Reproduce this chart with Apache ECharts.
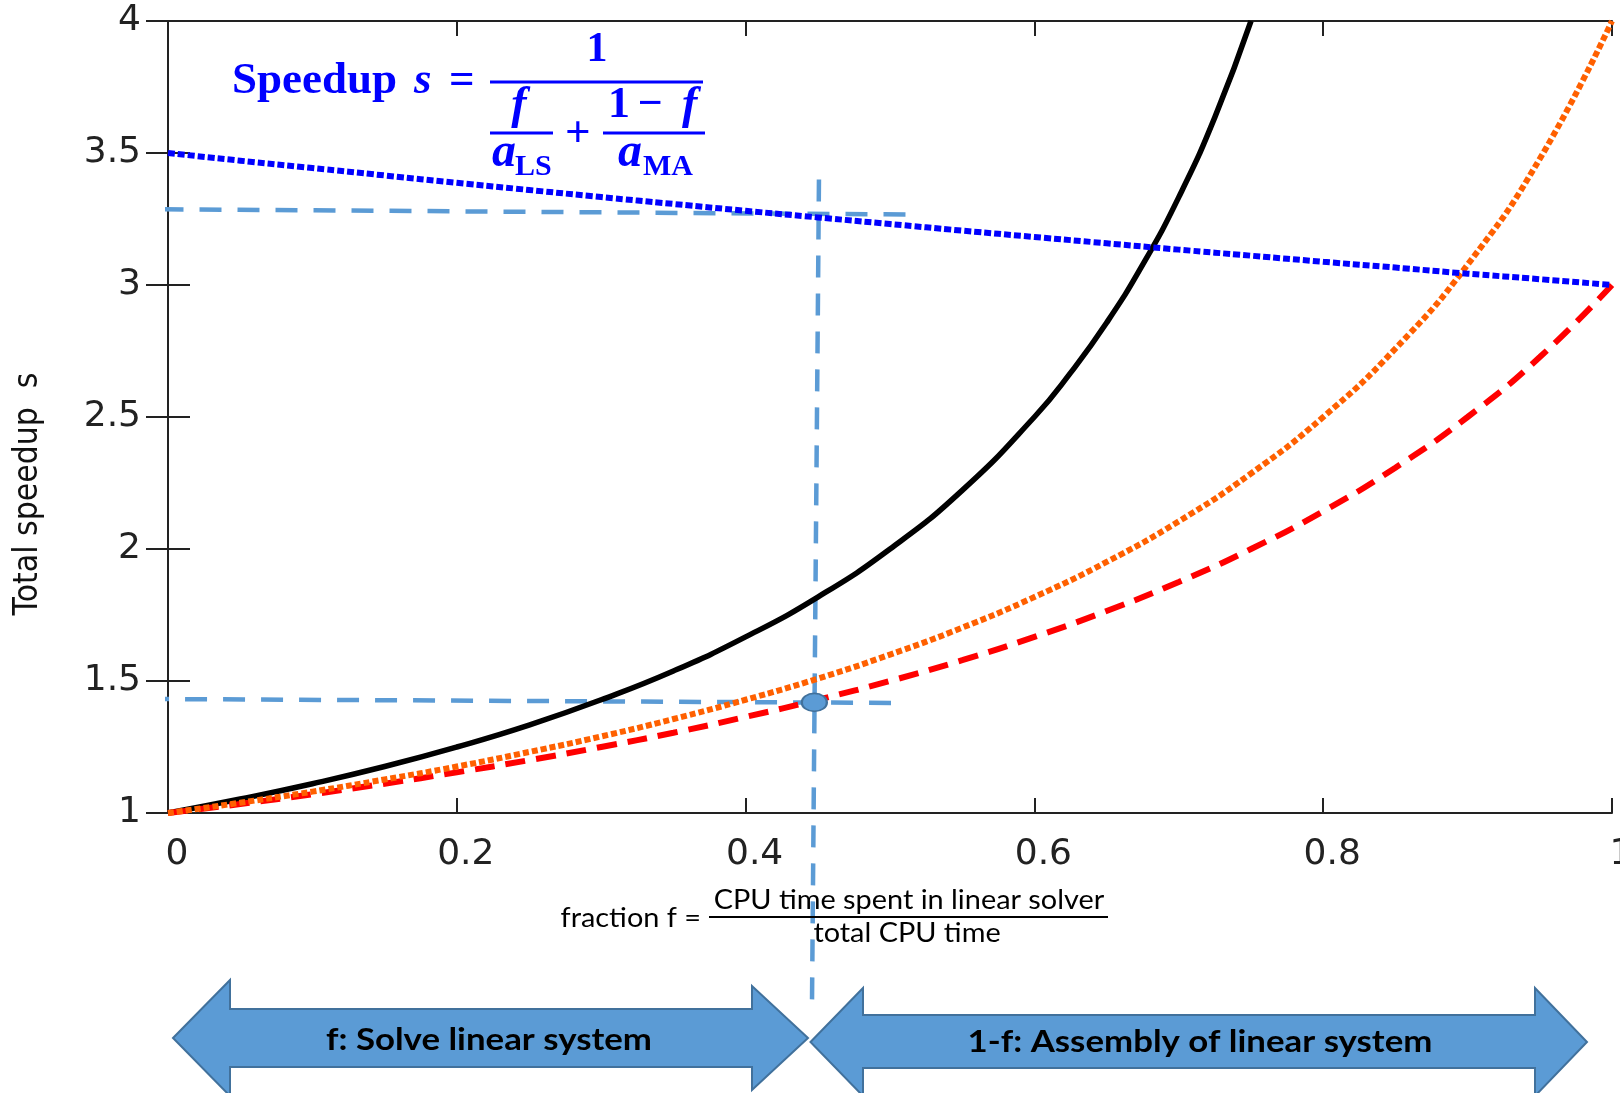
<!DOCTYPE html>
<html>
<head>
<meta charset="utf-8">
<script src="https://cdn.jsdelivr.net/npm/echarts@6/dist/echarts.min.js"></script>
<style>
html,body{margin:0;padding:0;background:#fff;}
#chart{width:1620px;height:1093px;}
</style>
</head>
<body>
<div id="chart"></div>
<script>
// ---- data ----
const fGrid  = [0, 0.05, 0.1, 0.15, 0.2, 0.25, 0.3, 0.35, 0.4, 0.45, 0.5, 0.55, 0.6, 0.65, 0.7, 0.75, 0.8, 0.85, 0.9, 0.95, 1];
const fBlack = [0, 0.05, 0.1, 0.15, 0.2, 0.25, 0.3, 0.35, 0.4, 0.45, 0.5, 0.55, 0.6, 0.625, 0.65, 0.675, 0.7, 0.725, 0.75];
const sBlack  = [1, 1.053, 1.111, 1.176, 1.25, 1.333, 1.429, 1.538, 1.667, 1.818, 2.0, 2.222, 2.5, 2.667, 2.857, 3.077, 3.333, 3.636, 4.0];
const sOrange = [1, 1.039, 1.081, 1.127, 1.176, 1.231, 1.290, 1.356, 1.429, 1.509, 1.6, 1.702, 1.818, 1.951, 2.105, 2.286, 2.5, 2.759, 3.077, 3.478, 4.0];
const sRed    = [1, 1.034, 1.071, 1.111, 1.154, 1.2, 1.25, 1.304, 1.364, 1.429, 1.5, 1.579, 1.667, 1.765, 1.875, 2.0, 2.143, 2.308, 2.5, 2.727, 3.0];
const sBlue   = [3.5, 3.471, 3.443, 3.415, 3.387, 3.36, 3.333, 3.307, 3.281, 3.256, 3.231, 3.206, 3.182, 3.158, 3.134, 3.111, 3.088, 3.066, 3.043, 3.022, 3.0];
const guideTop    = [[-0.0045, 3.287], [0.511, 3.267]];
const guideBottom = [[-0.0145, 1.432], [0.5007, 1.417]];
const guideVert   = [[0.4508, 3.40], [0.446, 0.292]];
const markPoint   = [[0.4476, 1.419]];
const xTicks = { min: 0, max: 1, interval: 0.2 };
const yTicks = { min: 1, max: 4, interval: 0.5 };

const pairs = (xs, s) => s.map((v, i) => [xs[i], v]);

const chart = echarts.init(document.getElementById('chart'), null, { renderer: 'canvas' });

const axisCommon = {
  type: 'value',
  axisLine: { show: true, lineStyle: { color: '#222', width: 2 } },
  splitLine: { show: false },
  axisTick: { show: true, inside: true, lineStyle: { color: '#222', width: 2 } }
};

const guideStyle = { color: '#5B9BD5', width: 4.5, type: [22, 16], cap: 'butt' };
const blueText = '#0000FF';
const serif = '"Liberation Serif", "Times New Roman", serif';

function t(text, x, y, font, fill, align, z, sx) {
  return {
    type: 'text', z: z || 10, silent: true, x: x, y: y, scaleX: sx || 1,
    style: { text: text, x: 0, y: 0, font: font, fill: fill,
      align: align || 'left', verticalAlign: 'middle',
      textAlign: align || 'left', textVerticalAlign: 'middle' }
  };
}
function ln(x1, y1, x2, y2, w, c) {
  return { type: 'line', z: 10, silent: true, shape: { x1: x1, y1: y1, x2: x2, y2: y2 }, style: { stroke: c, lineWidth: w } };
}

const option = {
  animation: false,
  backgroundColor: '#fff',
  grid: { left: 168, right: 8, top: 21, bottom: 280, containLabel: false, outerBoundsMode: 'none' },
  xAxis: [
    Object.assign({}, axisCommon, {
      position: 'bottom', min: xTicks.min, max: xTicks.max, interval: xTicks.interval,
      axisTick: { show: true, inside: true, length: 15, lineStyle: { color: '#222', width: 2 } },
      axisLabel: { show: true, margin: 24, color: '#222', fontSize: 36, fontFamily: 'DejaVu Sans', padding: [0, 0, 0, 18], hideOverlap: false }
    }),
    Object.assign({}, axisCommon, {
      position: 'top', min: xTicks.min, max: xTicks.max, interval: xTicks.interval,
      axisTick: { show: true, inside: true, length: 15, lineStyle: { color: '#222', width: 2 } },
      axisLabel: { show: false }
    })
  ],
  yAxis: [
    Object.assign({}, axisCommon, {
      position: 'left', min: yTicks.min, max: yTicks.max, interval: yTicks.interval,
      axisTick: { show: true, inside: true, length: 22, lineStyle: { color: '#222', width: 2 } },
      axisLabel: { show: true, margin: 27, color: '#222', fontSize: 36, fontFamily: 'DejaVu Sans' }
    }),
    Object.assign({}, axisCommon, {
      position: 'right', min: yTicks.min, max: yTicks.max, interval: yTicks.interval,
      axisTick: { show: true, inside: true, length: 22, lineStyle: { color: '#222', width: 2 } },
      axisLabel: { show: false }
    })
  ],
  series: [
    { type: 'line', name: 'guide top', data: guideTop, symbol: 'none', clip: false, silent: true, z: 2, lineStyle: guideStyle },
    { type: 'line', name: 'guide bottom', data: guideBottom, symbol: 'none', clip: false, silent: true, z: 2, lineStyle: guideStyle },
    { type: 'line', name: 'guide vertical', data: guideVert, symbol: 'none', clip: false, silent: true, z: 2, lineStyle: guideStyle },
    { type: 'line', name: 'a_LS = inf', data: pairs(fBlack, sBlack), symbol: 'none', smooth: 0.5, z: 3,
      lineStyle: { color: '#000', width: 5.5 } },
    { type: 'line', name: 'a_LS = 3', data: pairs(fGrid, sRed), symbol: 'none', smooth: 0.5, z: 3,
      lineStyle: { color: '#FF0000', width: 6, type: [20, 11] } },
    { type: 'line', name: 'a_LS = 4', data: pairs(fGrid, sOrange), symbol: 'none', smooth: 0.5, z: 4,
      lineStyle: { color: '#FF6000', width: 6, type: [6, 3] } },
    { type: 'line', name: 'a_LS = 3, a_MA = 3.5', data: pairs(fGrid, sBlue), symbol: 'none', smooth: 0.5, z: 4,
      lineStyle: { color: '#0000FF', width: 6, type: [7, 3] } },
    { type: 'scatter', name: 'operating point', data: markPoint, symbol: 'circle', symbolSize: [25, 18], z: 6, silent: true,
      itemStyle: { color: '#5B9BD5', borderColor: '#41719C', borderWidth: 2, opacity: 1 } }
  ],
  graphic: [
    // y axis title
    {
      type: 'text', silent: true, x: 28.5, y: 494, rotation: Math.PI / 2, scaleY: 1.12,
      style: { text: 'Total speedup  s', x: 0, y: 0, font: '30px "DejaVu Sans"', fill: '#111',
        align: 'center', verticalAlign: 'middle', textAlign: 'center', textVerticalAlign: 'middle' }
    },
    // x axis title: fraction f = CPU time spent in linear solver / total CPU time
    t('fraction f =', 701, 919, '26px Lato', '#000', 'right', 10, 1.11),
    t('CPU time spent in linear solver', 909, 901, '26px Lato', '#000', 'center', 10, 1.11),
    ln(709, 917, 1108, 917, 2, '#000'),
    t('total CPU time', 907, 934, '26px Lato', '#000', 'center', 10, 1.11),
    // formula
    t('Speedup', 232, 81, 'bold 45px ' + serif, blueText, 'left'),
    t('s', 414, 81, 'italic bold 45px ' + serif, blueText, 'left'),
    t('=', 449, 81, 'bold 45px ' + serif, blueText, 'left'),
    ln(490, 82, 703, 82, 3, blueText),
    t('1', 597, 50, 'bold 42px ' + serif, blueText, 'center'),
    t('f', 519, 106, 'italic bold 46px ' + serif, blueText, 'center'),
    ln(490, 133, 553, 133, 3, blueText),
    t('a', 492, 154, 'italic bold 48px ' + serif, blueText, 'left'),
    t('LS', 515, 167, 'bold 30px ' + serif, blueText, 'left'),
    t('+', 565, 134, 'bold 45px ' + serif, blueText, 'left'),
    t('1', 608, 106, 'bold 44px ' + serif, blueText, 'left'),
    t('\u2212', 650, 106, 'bold 44px ' + serif, blueText, 'center'),
    t('f', 682, 106, 'italic bold 46px ' + serif, blueText, 'left'),
    ln(603, 133, 705, 133, 3, blueText),
    t('a', 618, 154, 'italic bold 48px ' + serif, blueText, 'left'),
    t('MA', 643, 167, 'bold 30px ' + serif, blueText, 'left'),
    // arrows
    {
      type: 'polygon', silent: true, z: 5,
      shape: { points: [[173,1038],[230,980],[230,1009],[752,1009],[752,986],[808,1038],[752,1090],[752,1067],[230,1067],[230,1096]] },
      style: { fill: '#5B9BD5', stroke: '#41719C', lineWidth: 2 }
    },
    {
      type: 'polygon', silent: true, z: 5,
      shape: { points: [[810.5,1042],[863,988],[863,1015],[1535,1015],[1535,988],[1587,1042],[1535,1096],[1535,1068],[863,1068],[863,1096]] },
      style: { fill: '#5B9BD5', stroke: '#41719C', lineWidth: 2 }
    },
    t('f: Solve linear system', 489, 1040, 'bold 30px Lato', '#000', 'center', 11, 1.16),
    t('1-f: Assembly of linear system', 1200, 1042, 'bold 30px Lato', '#000', 'center', 11, 1.16)
  ]
};
chart.setOption(option);
</script>
</body>
</html>
